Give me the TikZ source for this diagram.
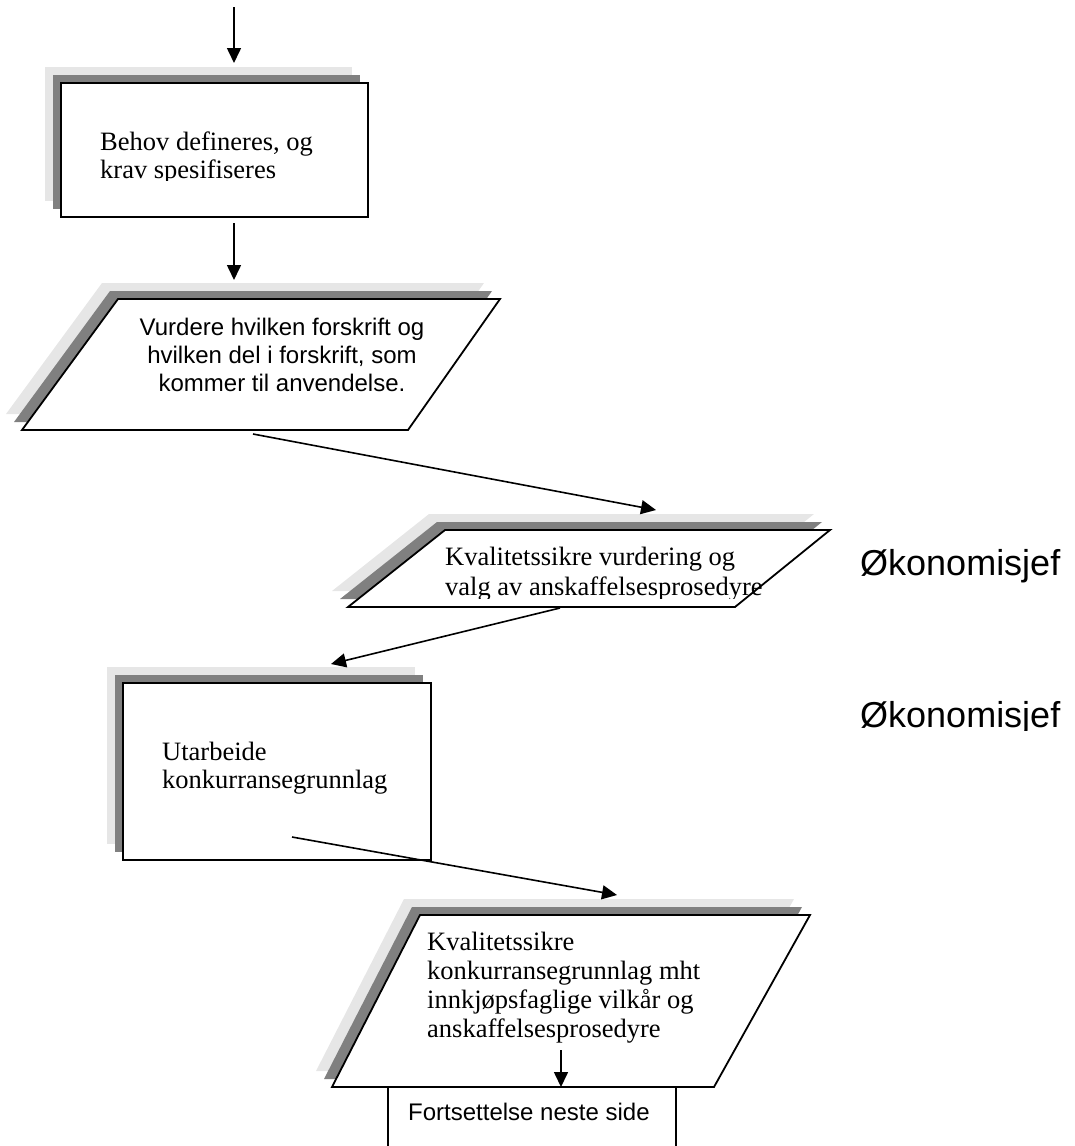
\documentclass[tikz,border=0pt]{standalone}
\usepackage{fontspec}
\setmainfont{Liberation Serif}
\newfontfamily\arialfont{Liberation Sans}
\usetikzlibrary{arrows.meta}
\definecolor{shlight}{RGB}{230,230,230}
\definecolor{shdark}{RGB}{128,128,128}
\newcommand\linesL[2]{\vtop{\baselineskip=#1\relax\halign{##\hfil\cr#2\crcr}}}
\newcommand\linesC[2]{\vtop{\baselineskip=#1\relax\halign{\hfil##\hfil\cr#2\crcr}}}
\newcommand\shadowed[1]{%
  \fill[shlight,shift={(-16,-16)}] #1;
  \fill[shdark,shift={(-8,-8)}] #1;
  \filldraw[flowshape] #1;}
\begin{document}
\begin{tikzpicture}[x=1pt,y=-1pt,
  flowshape/.style={draw=black,line width=1.8pt,fill=white},
  conn/.style={line width=1.6pt,-{Triangle[length=15pt,width=14pt]}},
  serif/.style={font=\fontsize{26.5}{29}\selectfont,inner sep=0pt},
  sans/.style={font=\arialfont\fontsize{24}{28}\selectfont,inner sep=0pt},
  role/.style={font=\arialfont\fontsize{36}{40}\selectfont,inner sep=0pt,anchor=base west}]
\useasboundingbox (0,0) rectangle (1074,1146);

% box 1
\shadowed{(61,83) rectangle (368,217)}
\begin{scope}
  \clip (0,0) rectangle (1074,180);
  \node[serif,anchor=base west] (t1) at (100,150) {\linesL{28pt}{Behov defineres, og\cr krav spesifiseres}};
\end{scope}

% parallelogram 1
\shadowed{(118,299) -- (500,299) -- (408,430) -- (22,430) -- cycle}
\node[sans,anchor=base] (t2) at (282,335) {\linesC{28pt}{Vurdere hvilken forskrift og\cr hvilken del i forskrift, som\cr kommer til anvendelse.}};

% parallelogram 2
\shadowed{(445,530) -- (830,530) -- (735,607) -- (348,607) -- cycle}
\begin{scope}
  \clip (0,0) rectangle (1074,598);
  \node[serif,anchor=base west] (t3) at (445,565) {\linesL{30pt}{Kvalitetssikre vurdering og\cr valg av anskaffelsesprosedyre}};
  \node[role] (r1) at (860,575) {Økonomisjef};
\end{scope}

% box 3
\shadowed{(123,683) rectangle (431,860)}
\node[serif,anchor=base west] (t4) at (162,760) {\linesL{28pt}{Utarbeide\cr konkurransegrunnlag}};

% parallelogram 3
\shadowed{(420,915) -- (810,915) -- (714,1087) -- (332,1087) -- cycle}
\node[serif,anchor=base west] (t5) at (427,950) {\linesL{29pt}{Kvalitetssikre\cr konkurransegrunnlag mht\cr innkjøpsfaglige vilkår og\cr anskaffelsesprosedyre}};
\begin{scope}
  \clip (700,600) rectangle (1074,730);
  \node[role] (r2) at (860,727) {Økonomisjef};
\end{scope}

% continuation box
\draw[line width=1.8pt] (388,1150) -- (388,1087) -- (676,1087) -- (676,1150);
\node[sans,anchor=base west] (t6) at (408,1120) {Fortsettelse neste side};

% connectors
\coordinate (a1s) at (234,7);    \coordinate (a1e) at (234,63);
\coordinate (a2s) at (234,223);  \coordinate (a2e) at (234,280);
\coordinate (a3s) at (253,434);  \coordinate (a3e) at (656,510);
\coordinate (a4s) at (560,608);  \coordinate (a4e) at (331,664);
\coordinate (a5s) at (292,837);  \coordinate (a5e) at (617,895);
\coordinate (a6s) at (561,1050); \coordinate (a6e) at (561,1087);
\draw[conn] (a1s) -- (a1e);
\draw[conn] (a2s) -- (a2e);
\draw[conn] (a3s) -- (a3e);
\draw[conn] (a4s) -- (a4e);
\draw[conn] (a5s) -- (a5e);
\draw[conn] (a6s) -- (a6e);
\end{tikzpicture}
\end{document}
